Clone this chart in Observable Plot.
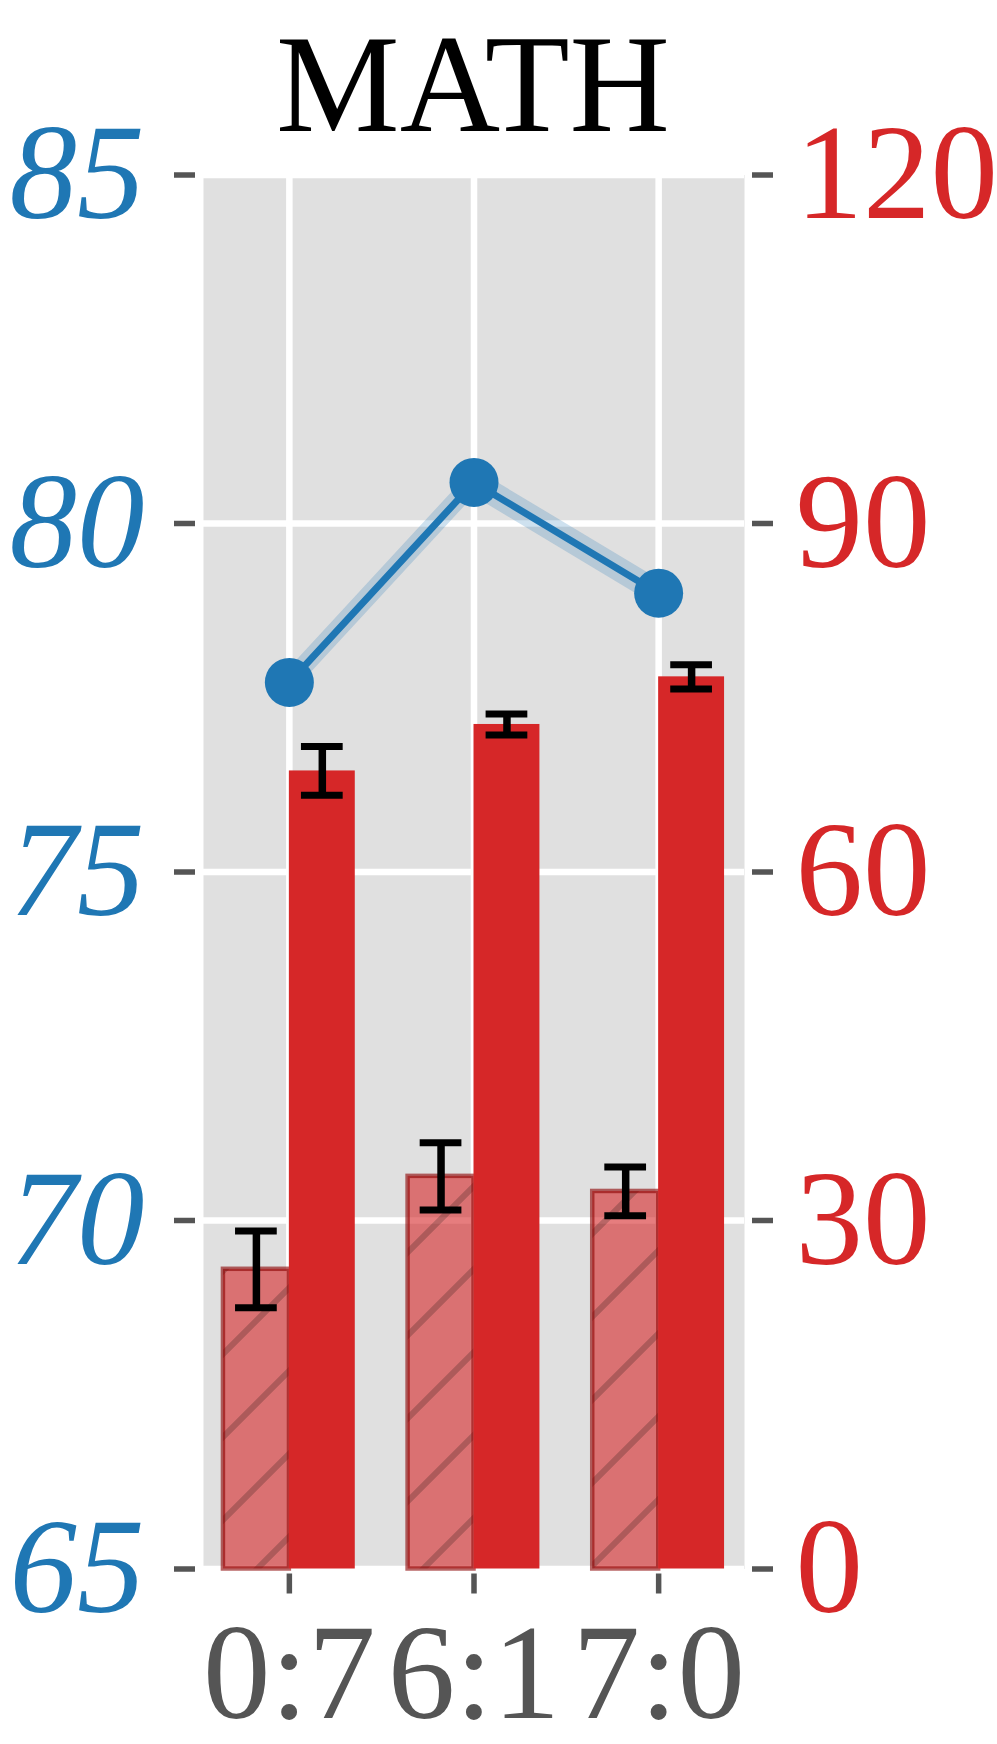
<!DOCTYPE html>
<html>
<head>
<meta charset="utf-8">
<script src="https://cdn.jsdelivr.net/npm/d3@7"></script>
<script src="https://cdn.jsdelivr.net/npm/@observablehq/plot@0.6"></script>
<style>
  html, body { margin: 0; padding: 0; background: white; }
  #wrap { width: 997px; height: 1744px; overflow: hidden; }
  #title { width: 997px; padding-right: 51px; height: 160px; box-sizing: border-box; padding-top: 15px;
           font-family: "Liberation Serif", "Times New Roman", serif; font-size: 139px; line-height: 139px;
           text-align: center; color: black; }
  #chart svg, #chart svg text { font-family: "Liberation Serif", "Times New Roman", serif !important; }
</style>
</head>
<body>
<div id="wrap">
  <div id="title">MATH</div>
  <div id="chart"></div>
</div>
<script>
// ---- data ----
const categories = ["0:7", "6:1", "7:0"];
const lineValues = [77.72, 80.59, 79.0];          // left axis (blue)
const lineBand = [0.2, 0.2, 0.2];
const hatchedValues = [25.8, 33.8, 32.5];         // right axis (red, hatched)
const hatchedErr = [3.3, 2.9, 2.1];
const solidValues = [68.7, 72.7, 76.8];           // right axis (red, solid)
const solidErr = [2.1, 0.9, 1.05];
const leftTicks = [65, 70, 75, 80, 85];
const rightTicks = [0, 30, 60, 90, 120];

// right axis (0..120) mapped onto left scale (65..85)
const toLeft = v => 65 + v * (85 - 65) / 120;
const toRight = y => Math.round((y - 65) * 120 / (85 - 65));

const barW = 0.357;
const capW = 0.113;
const idx = categories.map((_, i) => i);

const hatched = idx.map(i => ({i, x1: i - barW, x2: i, xc: i - barW / 2,
  v: toLeft(hatchedValues[i]), lo: toLeft(hatchedValues[i] - hatchedErr[i]), hi: toLeft(hatchedValues[i] + hatchedErr[i])}));
const solid = idx.map(i => ({i, x1: i, x2: i + barW, xc: i + barW / 2,
  v: toLeft(solidValues[i]), lo: toLeft(solidValues[i] - solidErr[i]), hi: toLeft(solidValues[i] + solidErr[i])}));
const errs = hatched.concat(solid);
const line = idx.map(i => ({i, y: lineValues[i], lo: lineValues[i] - lineBand[i], hi: lineValues[i] + lineBand[i]}));

const font = "'Liberation Serif', 'Times New Roman', serif";
const svg = Plot.plot({
  width: 997,
  height: 1584,
  marginLeft: 203,
  marginRight: 253,
  marginTop: 14.5,
  marginBottom: 175.5,
  style: {fontFamily: font, fontSize: "135px", background: "white", overflow: "visible"},
  x: {domain: [-0.465, 2.465]},
  y: {domain: [65, 85]},
  marks: [
    Plot.frame({fill: "#e0e0e0", stroke: null}),
    Plot.gridY({ticks: leftTicks, stroke: "white", strokeOpacity: 1, strokeWidth: 6.5}),
    Plot.gridX({ticks: idx, stroke: "white", strokeOpacity: 1, strokeWidth: 6.5}),
    Plot.rect(hatched, {x1: "x1", x2: "x2", y1: 65, y2: "v", fill: "url(#hatch)", fillOpacity: 0.6,
      stroke: "#8b0000", strokeOpacity: 0.6, strokeWidth: 4.5}),
    Plot.rect(solid, {x1: "x1", x2: "x2", y1: 65, y2: "v", fill: "#d62728"}),
    Plot.ruleX(errs, {x: "xc", y1: "lo", y2: "hi", stroke: "black", strokeWidth: 7.5}),
    Plot.ruleY(errs, {y: "lo", x1: d => d.xc - capW, x2: d => d.xc + capW, stroke: "black", strokeWidth: 7}),
    Plot.ruleY(errs, {y: "hi", x1: d => d.xc - capW, x2: d => d.xc + capW, stroke: "black", strokeWidth: 7}),
    Plot.areaY(line, {x: "i", y1: "lo", y2: "hi", fill: "#1f77b4", fillOpacity: 0.22}),
    Plot.line(line, {x: "i", y: "y", stroke: "#1f77b4", strokeWidth: 7}),
    Plot.dot(line, {x: "i", y: "y", r: 24.5, fill: "#1f77b4", stroke: null}),
    Plot.axisY({anchor: "left", ticks: leftTicks, tickSize: 21, tickPadding: 30, dx: -8,
      stroke: "#555555", strokeWidth: 5.5, fill: "#1f77b4", fontSize: 135, fontStyle: "italic",
      fontFamily: font, label: null}),
    Plot.axisY({anchor: "right", ticks: rightTicks.map(toLeft), tickFormat: toRight, tickSize: 21, tickPadding: 23, dx: 7,
      stroke: "#555555", strokeWidth: 5.5, fill: "#d62728", fontSize: 135, fontFamily: font, label: null}),
    Plot.axisX({ticks: idx, tickFormat: i => categories[i], tickSize: 20, tickPadding: 28, dy: 5,
      stroke: "#555555", strokeWidth: 5.5, fill: "#555555", fontSize: 135, fontFamily: font, label: null})
  ]
});

// hatch pattern (fill + "/" hatch lines; whole patch drawn at 0.6 opacity)
const defs = d3.select(svg).insert("defs", ":first-child");
const pat = defs.append("pattern").attr("id", "hatch").attr("patternUnits", "userSpaceOnUse")
  .attr("x", 6).attr("y", 0).attr("width", 83).attr("height", 83);
pat.append("rect").attr("width", 83).attr("height", 83).attr("fill", "#d62728");
pat.append("path").attr("d", "M-5,88L88,-5M-10,10L10,-10M73,93L93,73")
  .attr("stroke", "#8b0000").attr("stroke-width", 6).attr("fill", "none");

document.getElementById("chart").appendChild(svg);
</script>
</body>
</html>
